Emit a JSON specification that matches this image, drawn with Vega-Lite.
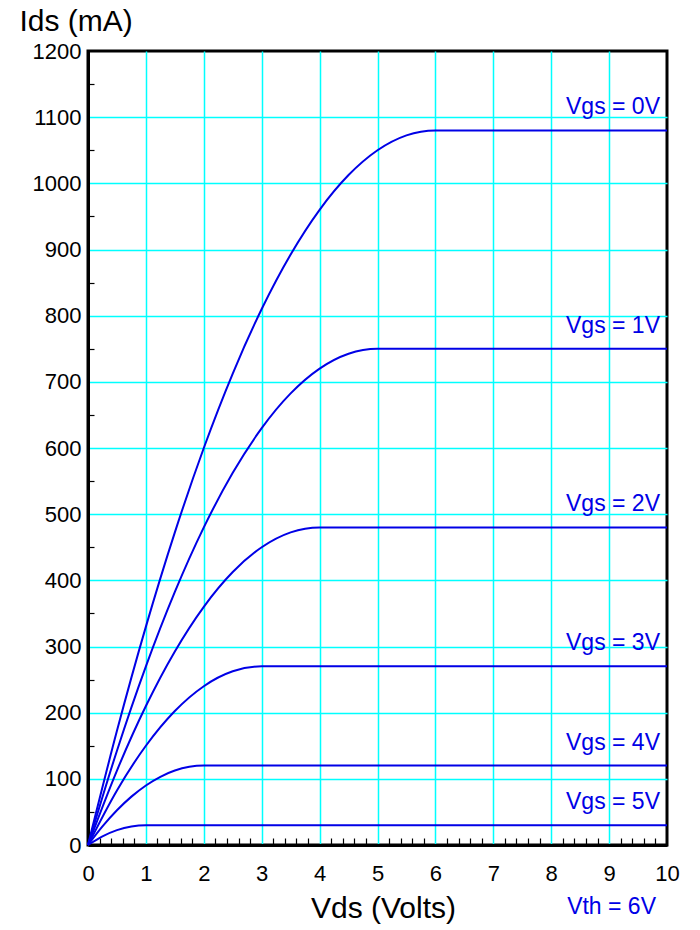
{
  "$schema": "https://vega.github.io/schema/vega-lite/v6.json",
  "width": 579,
  "height": 794,
  "autosize": {"type": "none"},
  "padding": {"left": 88, "top": 51, "right": 33, "bottom": 85},
  "background": "white",
  "config": {
    "font": "Liberation Sans",
    "view": {"stroke": "black", "strokeWidth": 3},
    "axis": {"labelFont": "Liberation Sans", "titleFont": "Liberation Sans", "labelColor": "black", "titleColor": "black", "titleFontWeight": "normal"}
  },
  "datasets": {
    "curves": [
      {"Vgs": "0V", "Vds": 0, "Ids": 0},
      {"Vgs": "0V", "Vds": 0.5, "Ids": 172.5},
      {"Vgs": "0V", "Vds": 1, "Ids": 330},
      {"Vgs": "0V", "Vds": 1.5, "Ids": 472.5},
      {"Vgs": "0V", "Vds": 2, "Ids": 600},
      {"Vgs": "0V", "Vds": 2.5, "Ids": 712.5},
      {"Vgs": "0V", "Vds": 3, "Ids": 810},
      {"Vgs": "0V", "Vds": 3.5, "Ids": 892.5},
      {"Vgs": "0V", "Vds": 4, "Ids": 960},
      {"Vgs": "0V", "Vds": 4.5, "Ids": 1012.5},
      {"Vgs": "0V", "Vds": 5, "Ids": 1050},
      {"Vgs": "0V", "Vds": 5.5, "Ids": 1072.5},
      {"Vgs": "0V", "Vds": 6, "Ids": 1080},
      {"Vgs": "0V", "Vds": 10, "Ids": 1080},
      {"Vgs": "1V", "Vds": 0, "Ids": 0},
      {"Vgs": "1V", "Vds": 0.5, "Ids": 142.5},
      {"Vgs": "1V", "Vds": 1, "Ids": 270},
      {"Vgs": "1V", "Vds": 1.5, "Ids": 382.5},
      {"Vgs": "1V", "Vds": 2, "Ids": 480},
      {"Vgs": "1V", "Vds": 2.5, "Ids": 562.5},
      {"Vgs": "1V", "Vds": 3, "Ids": 630},
      {"Vgs": "1V", "Vds": 3.5, "Ids": 682.5},
      {"Vgs": "1V", "Vds": 4, "Ids": 720},
      {"Vgs": "1V", "Vds": 4.5, "Ids": 742.5},
      {"Vgs": "1V", "Vds": 5, "Ids": 750},
      {"Vgs": "1V", "Vds": 10, "Ids": 750},
      {"Vgs": "2V", "Vds": 0, "Ids": 0},
      {"Vgs": "2V", "Vds": 0.5, "Ids": 112.5},
      {"Vgs": "2V", "Vds": 1, "Ids": 210},
      {"Vgs": "2V", "Vds": 1.5, "Ids": 292.5},
      {"Vgs": "2V", "Vds": 2, "Ids": 360},
      {"Vgs": "2V", "Vds": 2.5, "Ids": 412.5},
      {"Vgs": "2V", "Vds": 3, "Ids": 450},
      {"Vgs": "2V", "Vds": 3.5, "Ids": 472.5},
      {"Vgs": "2V", "Vds": 4, "Ids": 480},
      {"Vgs": "2V", "Vds": 10, "Ids": 480},
      {"Vgs": "3V", "Vds": 0, "Ids": 0},
      {"Vgs": "3V", "Vds": 0.5, "Ids": 82.5},
      {"Vgs": "3V", "Vds": 1, "Ids": 150},
      {"Vgs": "3V", "Vds": 1.5, "Ids": 202.5},
      {"Vgs": "3V", "Vds": 2, "Ids": 240},
      {"Vgs": "3V", "Vds": 2.5, "Ids": 262.5},
      {"Vgs": "3V", "Vds": 3, "Ids": 270},
      {"Vgs": "3V", "Vds": 10, "Ids": 270},
      {"Vgs": "4V", "Vds": 0, "Ids": 0},
      {"Vgs": "4V", "Vds": 0.25, "Ids": 28.1},
      {"Vgs": "4V", "Vds": 0.5, "Ids": 52.5},
      {"Vgs": "4V", "Vds": 0.75, "Ids": 73.1},
      {"Vgs": "4V", "Vds": 1, "Ids": 90},
      {"Vgs": "4V", "Vds": 1.25, "Ids": 103.1},
      {"Vgs": "4V", "Vds": 1.5, "Ids": 112.5},
      {"Vgs": "4V", "Vds": 1.75, "Ids": 118.1},
      {"Vgs": "4V", "Vds": 2, "Ids": 120},
      {"Vgs": "4V", "Vds": 10, "Ids": 120},
      {"Vgs": "5V", "Vds": 0, "Ids": 0},
      {"Vgs": "5V", "Vds": 0.25, "Ids": 13.1},
      {"Vgs": "5V", "Vds": 0.5, "Ids": 22.5},
      {"Vgs": "5V", "Vds": 0.75, "Ids": 28.1},
      {"Vgs": "5V", "Vds": 1, "Ids": 30},
      {"Vgs": "5V", "Vds": 10, "Ids": 30}
    ],
    "labels": [
      {"label": "Vgs = 0V", "Vds": 10, "Ids": 1080},
      {"label": "Vgs = 1V", "Vds": 10, "Ids": 750},
      {"label": "Vgs = 2V", "Vds": 10, "Ids": 480},
      {"label": "Vgs = 3V", "Vds": 10, "Ids": 270},
      {"label": "Vgs = 4V", "Vds": 10, "Ids": 120},
      {"label": "Vgs = 5V", "Vds": 10, "Ids": 30}
    ],
    "note": [
      {"label": "Vth = 6V", "Vds": 10, "Ids": 0}
    ]
  },
  "layer": [
    {
      "data": {"name": "curves"},
      "mark": {"type": "line", "color": "#0000e6", "strokeWidth": 2, "interpolate": "monotone"},
      "encoding": {
        "x": {
          "field": "Vds", "type": "quantitative",
          "scale": {"domain": [0, 10], "nice": false, "zero": false},
          "axis": {
            "values": [0,0.2,0.4,0.6,0.8,1,1.2,1.4,1.6,1.8,2,2.2,2.4,2.6,2.8,3,3.2,3.4,3.6,3.8,4,4.2,4.4,4.6,4.8,5,5.2,5.4,5.6,5.8,6,6.2,6.4,6.6,6.8,7,7.2,7.4,7.6,7.8,8,8.2,8.4,8.6,8.8,9,9.2,9.4,9.6,9.8,10],
            "tickCount": 200,
            "labelExpr": "abs(datum.value - round(datum.value)) < 0.001 ? format(datum.value, 'd') : ''",
            "labelOverlap": false,
            "labelFlush": false,
            "labelFontSize": 22,
            "labelPadding": 25,
            "tickSize": -7,
            "tickColor": "black",
            "tickWidth": 1.2,
            "tickOpacity": {"condition": {"test": "abs(datum.value - round(datum.value)) < 0.001", "value": 0}, "value": 1},
            "grid": true,
            "gridColor": "#00ffff",
            "gridWidth": 1.5,
            "gridOpacity": {"condition": {"test": "abs(datum.value - round(datum.value)) < 0.001 && datum.value > 0.5 && datum.value < 9.5", "value": 1}, "value": 0},
            "domainColor": "black",
            "domainWidth": 3,
            "title": "Vds (Volts)",
            "titleFontSize": 30,
            "titleBaseline": "alphabetic",
            "titleAlign": "center",
            "titleX": 295,
            "titleY": 72
          }
        },
        "y": {
          "field": "Ids", "type": "quantitative",
          "scale": {"domain": [0, 1200], "nice": false},
          "axis": {
            "values": [0,50,100,150,200,250,300,350,400,450,500,550,600,650,700,750,800,850,900,950,1000,1050,1100,1150,1200],
            "tickCount": 200,
            "format": "d",
            "labelExpr": "datum.value % 100 === 0 ? datum.label : ''",
            "labelOverlap": false,
            "labelFlush": false,
            "labelFontSize": 22,
            "labelPadding": 13,
            "tickSize": -6,
            "tickColor": "black",
            "tickWidth": 1.2,
            "tickOpacity": {"condition": {"test": "datum.value % 100 === 0", "value": 0}, "value": 1},
            "grid": true,
            "gridColor": "#00ffff",
            "gridWidth": 1.5,
            "gridOpacity": {"condition": {"test": "datum.value % 100 === 0 && datum.value > 0 && datum.value < 1200", "value": 1}, "value": 0},
            "domainColor": "black",
            "domainWidth": 3,
            "title": "Ids (mA)",
            "titleAngle": 0,
            "titleFontSize": 30,
            "titleAlign": "left",
            "titleBaseline": "alphabetic",
            "titleX": -69,
            "titleY": -21
          }
        },
        "detail": {"field": "Vgs", "type": "nominal"}
      }
    },
    {
      "data": {"name": "labels"},
      "mark": {"type": "text", "color": "#0000e6", "fontSize": 23, "align": "right", "baseline": "alphabetic", "dx": -7, "dy": -16, "font": "Liberation Sans"},
      "encoding": {
        "x": {"field": "Vds", "type": "quantitative"},
        "y": {"field": "Ids", "type": "quantitative"},
        "text": {"field": "label"}
      }
    },
    {
      "data": {"name": "note"},
      "mark": {"type": "text", "color": "#0000e6", "fontSize": 23, "align": "right", "baseline": "alphabetic", "dx": -11, "dy": 69, "font": "Liberation Sans"},
      "encoding": {
        "x": {"field": "Vds", "type": "quantitative"},
        "y": {"field": "Ids", "type": "quantitative"},
        "text": {"field": "label"}
      }
    }
  ]
}
